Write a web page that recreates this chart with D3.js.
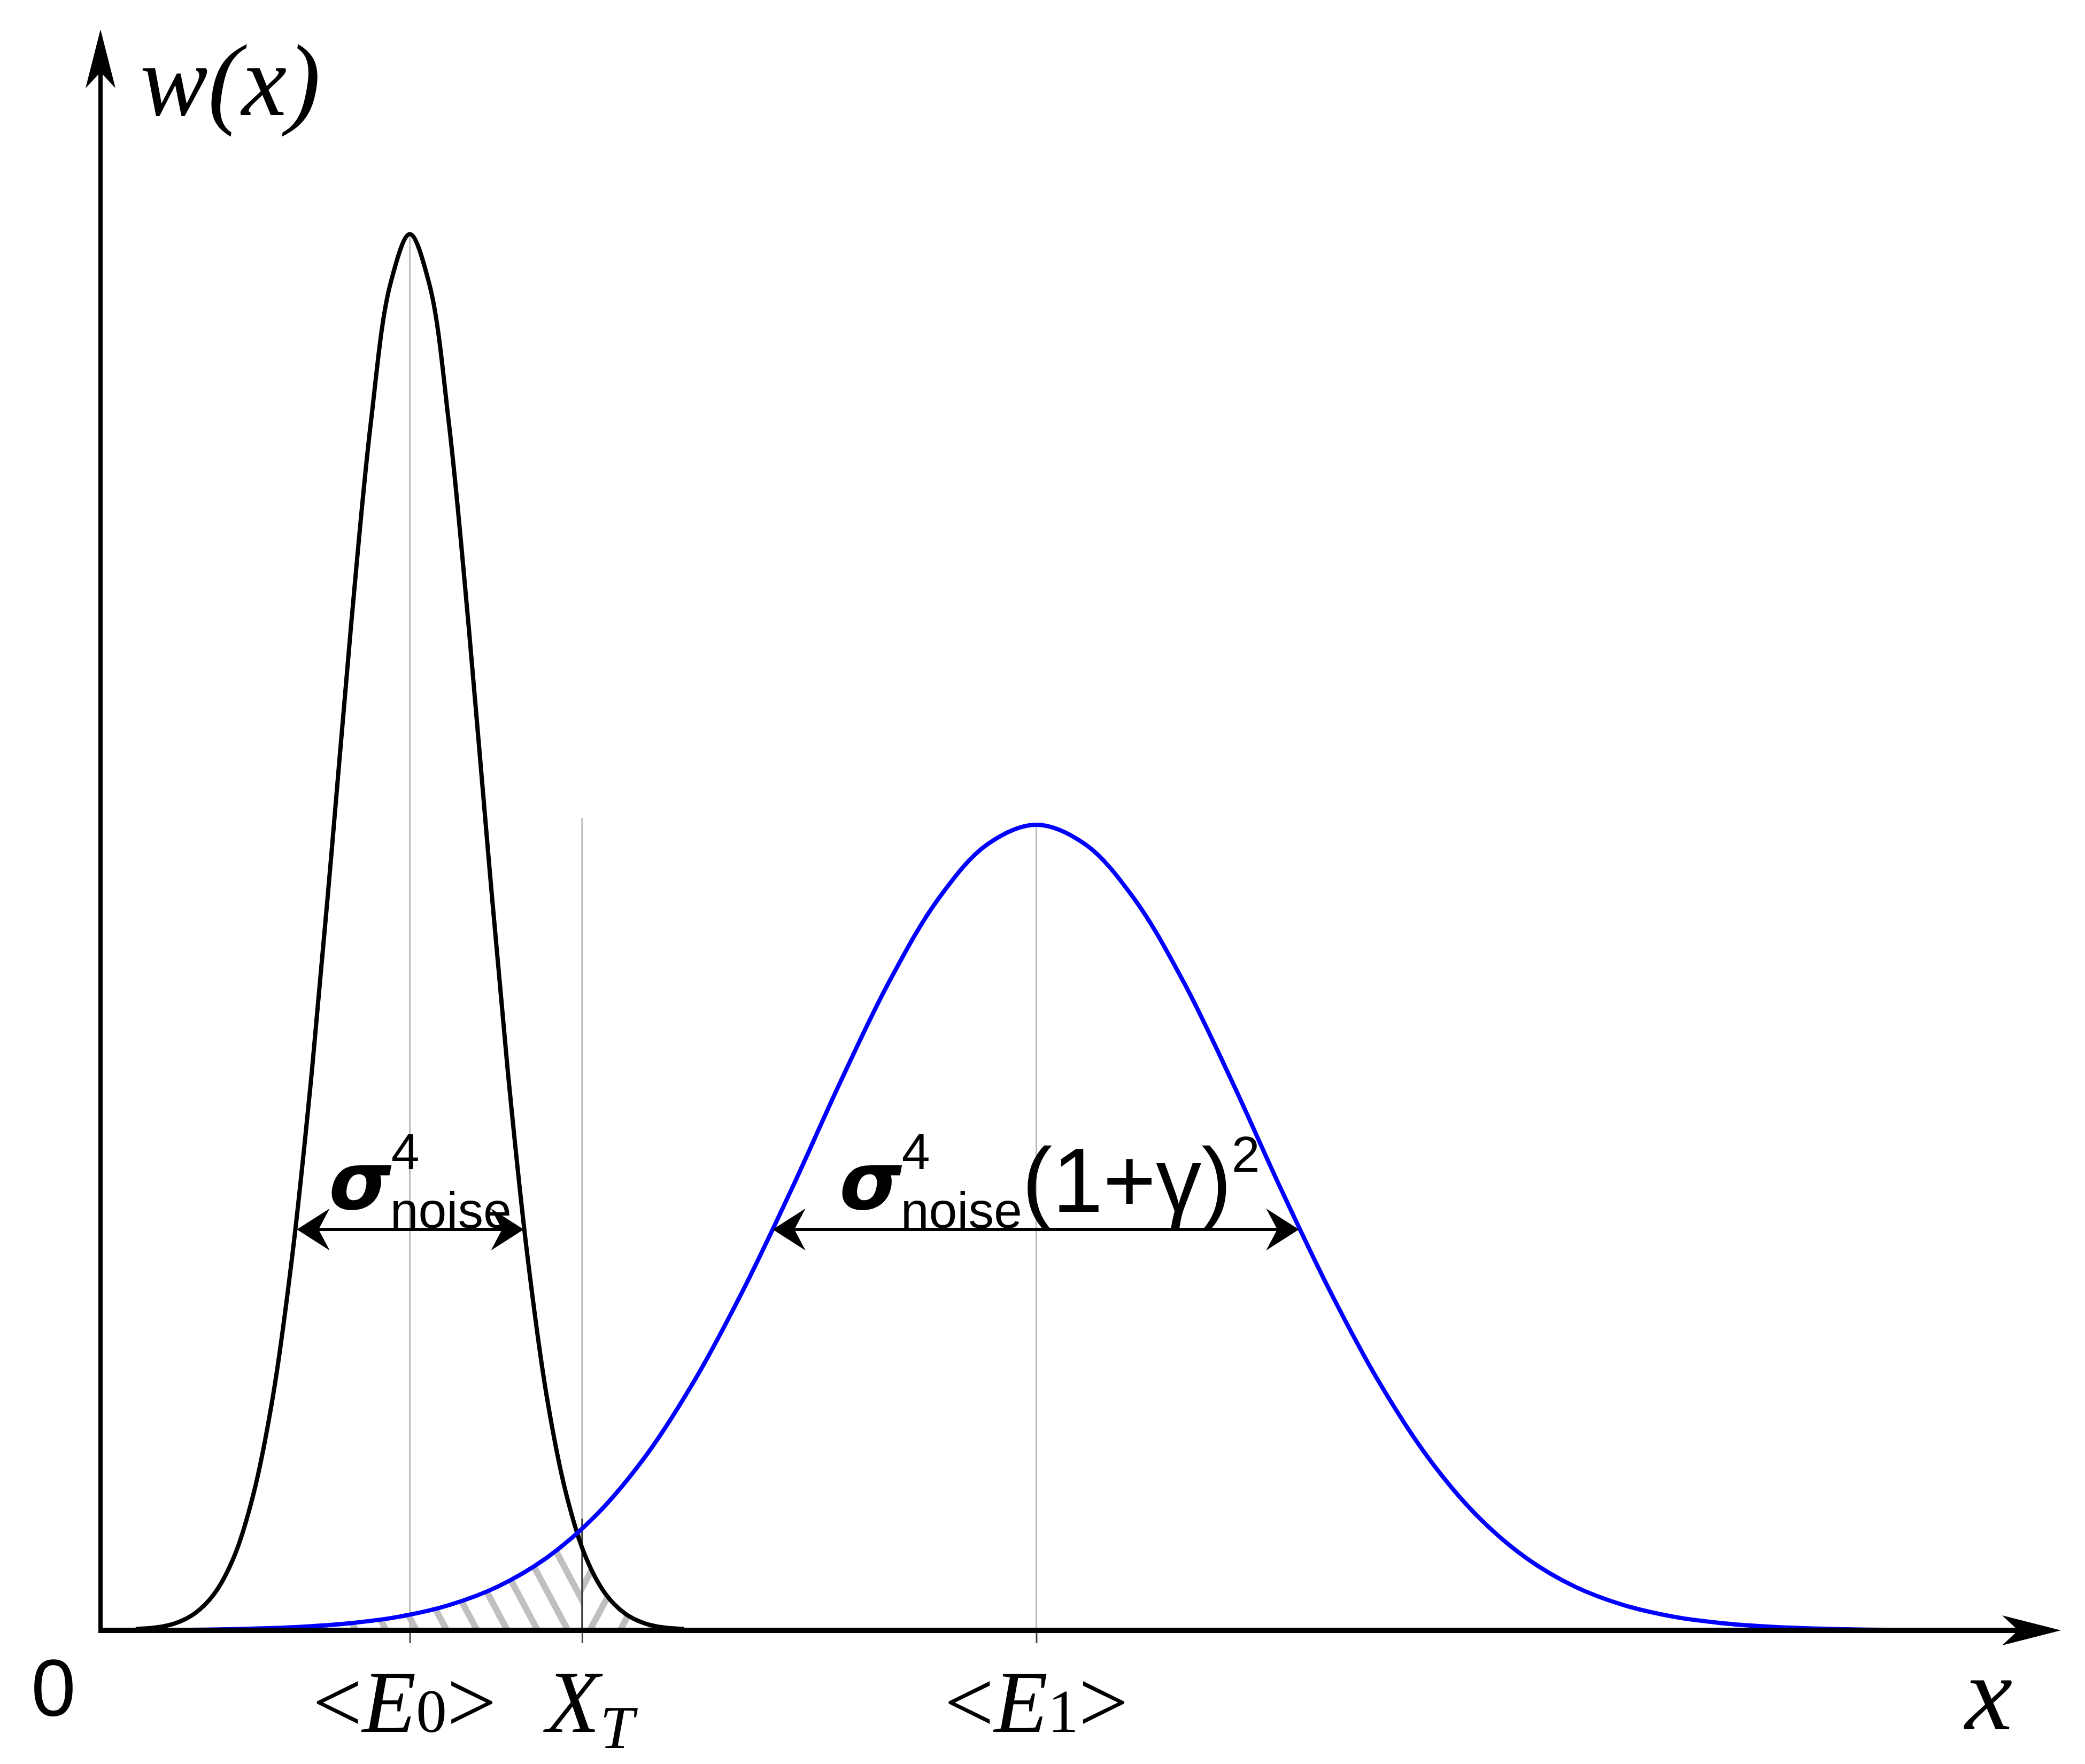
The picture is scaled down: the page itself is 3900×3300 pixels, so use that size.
<!DOCTYPE html>
<html>
<head>
<meta charset="utf-8">
<script src="https://cdn.jsdelivr.net/npm/d3@7"></script>
<style>body{margin:0;background:#fff}</style>
</head>
<body>
<div class="canva"></div>
<script>
// values (x in axis units 0..10, y relative to the noise peak)
const e0 = 1.58, xT = 2.46, e1 = 4.78;
const noiseX = [0.18,0.28,0.38,0.48,0.58,0.68,0.78,0.88,0.98,1.08,1.18,1.28,1.38,1.48,1.58,1.68,1.78,1.88,1.98,2.08,2.18,2.28,2.38,2.48,2.58,2.68,2.78,2.88,2.98];
const noiseY = [0.001,0.002,0.005,0.012,0.026,0.052,0.097,0.167,0.269,0.401,0.557,0.720,0.864,0.964,1,0.964,0.864,0.720,0.557,0.401,0.269,0.167,0.097,0.052,0.026,0.012,0.005,0.002,0.001];
const sigX = [0.03,0.28,0.53,0.78,1.03,1.28,1.53,1.78,2.03,2.28,2.53,2.78,3.03,3.28,3.53,3.78,4.03,4.28,4.53,4.78,5.03,5.28,5.53,5.78,6.03,6.28,6.53,6.78,7.03,7.28,7.53,7.78,8.03,8.28,8.53,8.78,9.03,9.28,9.53];
const sigY = [0.0001,0.0002,0.0005,0.0012,0.0026,0.0052,0.0099,0.0181,0.0314,0.0521,0.0823,0.124,0.178,0.243,0.316,0.393,0.465,0.524,0.563,0.577,0.563,0.524,0.465,0.393,0.316,0.243,0.178,0.124,0.0823,0.0521,0.0314,0.0181,0.0099,0.0052,0.0026,0.0012,0.0005,0.0002,0.0001];
const tickVals = [e0, xT, e1];

const svg = d3.select(".canva").append("svg")
    .attr("width", 3900)
    .attr("height", 3300);

const x = d3.scaleLinear().domain([0, 10]).range([188, 3850]);
const y = d3.scaleLinear().domain([0, 1]).range([3050, 438]);

const noise = noiseX.map((v, i) => [v, noiseY[i]]);
const sig = sigX.map((v, i) => [v, sigY[i]]);

// hatch patterns
const defs = svg.append("defs");
[["hl", -1], ["hr", 1]].forEach(([id, s]) => {
    const p = defs.append("pattern").attr("id", id)
        .attr("patternUnits", "userSpaceOnUse").attr("width", 50).attr("height", 50)
        .attr("patternTransform", `rotate(${s * 28})`);
    p.append("line").attr("x1", 0).attr("y1", 0).attr("x2", 0).attr("y2", 50)
        .attr("stroke", "#c0c0c0").attr("stroke-width", 24);
});
defs.append("clipPath").attr("id", "cl").append("rect")
    .attr("x", 0).attr("y", 0).attr("width", x(xT)).attr("height", 3300);
defs.append("clipPath").attr("id", "cr").append("rect")
    .attr("x", x(xT)).attr("y", 0).attr("width", 3900).attr("height", 3300);

const area = d3.area().x(d => x(d[0])).y0(y(0)).y1(d => y(d[1])).curve(d3.curveCatmullRom);
svg.append("path").datum(sig).attr("d", area).attr("fill", "url(#hl)").attr("clip-path", "url(#cl)");
svg.append("path").datum(noise).attr("d", area).attr("fill", "url(#hr)").attr("clip-path", "url(#cr)");

// guide lines
svg.append("line").attr("x1", x(e0)).attr("x2", x(e0)).attr("y1", y(1)).attr("y2", y(0))
    .attr("stroke", "#bbb").attr("stroke-width", 3);
svg.append("line").attr("x1", x(xT)).attr("x2", x(xT)).attr("y1", 1530).attr("y2", y(0))
    .attr("stroke", "#bbb").attr("stroke-width", 3);
svg.append("line").attr("x1", x(xT)).attr("x2", x(xT)).attr("y1", y(0.08)).attr("y2", y(0))
    .attr("stroke", "#333").attr("stroke-width", 3);
svg.append("line").attr("x1", x(e1)).attr("x2", x(e1)).attr("y1", y(0.577)).attr("y2", y(0))
    .attr("stroke", "#bbb").attr("stroke-width", 3);

// curves
const line = d3.line().x(d => x(d[0])).y(d => y(d[1])).curve(d3.curveCatmullRom);
svg.append("path").datum(noise).attr("d", line).attr("fill", "none").attr("stroke", "#000").attr("stroke-width", 8);
svg.append("path").datum(sig).attr("d", line).attr("fill", "none").attr("stroke", "#0000ff").attr("stroke-width", 8);

// axes
const ax = svg.append("g").attr("transform", `translate(0,${y(0)})`)
    .call(d3.axisBottom(x).tickValues(tickVals).tickFormat("").tickSize(24).tickSizeOuter(0));
ax.select(".domain").remove();
ax.selectAll("line").attr("stroke", "#444").attr("stroke-width", 3);

svg.append("line").attr("x1", 185).attr("x2", 3810).attr("y1", y(0)).attr("y2", y(0))
    .attr("stroke", "#000").attr("stroke-width", 10);
svg.append("line").attr("x1", 188).attr("x2", 188).attr("y1", 3055).attr("y2", 100)
    .attr("stroke", "#000").attr("stroke-width", 8);
svg.append("path").attr("d", `M3855,${y(0)} L3745,${y(0) - 28} L3775,${y(0)} L3745,${y(0) + 28} Z`);
svg.append("path").attr("d", "M188,55 L160,165 L188,135 L216,165 Z");

// double arrows
function dblArrow(xa, xb, yy) {
    svg.append("line").attr("x1", xa + 10).attr("x2", xb - 10).attr("y1", yy).attr("y2", yy)
        .attr("stroke", "#000").attr("stroke-width", 6);
    svg.append("path").attr("d", `M${xa + 55},${yy - 32} L${xa + 5},${yy} L${xa + 55},${yy + 32} L${xa + 38},${yy} Z`)
        .attr("stroke", "#000").attr("stroke-width", 5);
    svg.append("path").attr("d", `M${xb - 55},${yy - 32} L${xb - 5},${yy} L${xb - 55},${yy + 32} L${xb - 38},${yy} Z`)
        .attr("stroke", "#000").attr("stroke-width", 5);
}
dblArrow(555, 980, 2300);
dblArrow(1445, 2430, 2300);

// labels
const serif = "'Liberation Serif','DejaVu Serif',serif";
const sans = "'Liberation Sans',Arial,sans-serif";
svg.append("text").attr("x", 262).attr("y", 215).attr("font-family", serif).attr("font-style", "italic")
    .attr("font-size", 190).text("w(x)");
svg.append("text").attr("x", 100).attr("y", 3210).attr("font-family", sans).attr("font-size", 150)
    .attr("text-anchor", "middle").text("0");
svg.append("text").attr("x", 3720).attr("y", 3235).attr("font-family", serif).attr("font-style", "italic")
    .attr("font-size", 200).attr("text-anchor", "middle").text("x");

function eLabel(cx, idx) {
    const t = svg.append("text").attr("x", cx).attr("y", 3240).attr("font-family", serif)
        .attr("font-size", 165).attr("text-anchor", "middle");
    t.append("tspan").text("<");
    t.append("tspan").attr("font-style", "italic").text("E");
    t.append("tspan").attr("font-size", 115).text(idx);
    t.append("tspan").text(">");
}
eLabel(x(e0) - 10, "0");
eLabel(x(e1), "1");
const tx = svg.append("text").attr("x", x(xT) + 15).attr("y", 3240).attr("font-family", serif)
    .attr("font-size", 165).attr("font-style", "italic").attr("text-anchor", "middle");
tx.append("tspan").text("X");
tx.append("tspan").attr("font-size", 115).attr("dy", 30).text("T");

function sigma(x0, extra) {
    const t = svg.append("text").attr("x", x0).attr("y", 2262).attr("font-family", sans).attr("font-size", 150);
    t.append("tspan").attr("font-weight", "bold").attr("font-style", "italic").attr("font-family", "'DejaVu Sans',sans-serif").text("σ");
    t.append("tspan").attr("font-size", 95).attr("dy", -75).text("4");
    t.append("tspan").attr("font-size", 95).attr("dx", -55).attr("dy", 110).text("noise");
    if (extra) {
        t.append("tspan").attr("font-size", 170).attr("dy", -30).text("(1+γ)");
        t.append("tspan").attr("font-size", 95).attr("dy", -75).text("2");
    }
}
sigma(615, false);
sigma(1570, true);
</script>
</body>
</html>
